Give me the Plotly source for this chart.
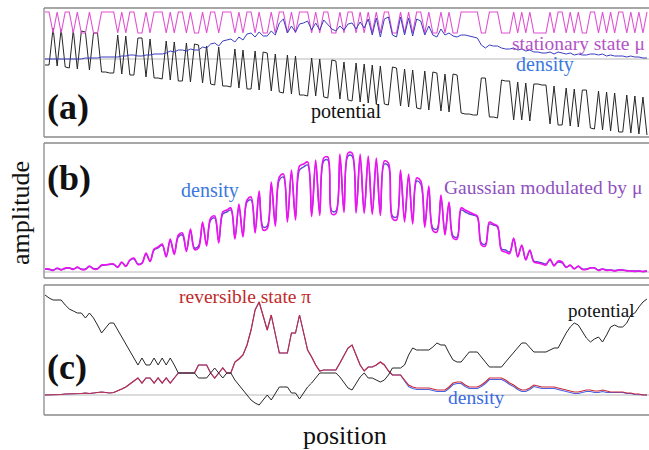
import plotly.graph_objects as go

W, H = 649, 450

# ---------------- data (arbitrary units) ----------------
position = list(range(150))  # lattice sites

# panel (a)
mu_a = [47,47,26,47,26,47,47,26,47,26,
        26,47,26,26,47,47,47,47,26,47,
        26,47,47,26,26,47,26,47,47,47,
        26,47,26,47,47,26,47,26,26,47,
        26,47,47,26,47,47,47,26,47,26,
        47,47,26,47,26,26,47,26,47,47,
        26,47,26,47,47,47,26,47,26,47,
        47,26,26,47,26,47,47,26,47,26,
        47,26,47,26,47,47,26,26,47,26,
        47,26,47,47,26,47,26,26,47,26,
        47,26,26,47,47,47,47,47,26,26,
        47,47,47,26,26,26,47,26,47,26,
        47,26,26,26,26,47,26,47,47,26,
        47,26,47,26,26,47,47,26,47,26,
        47,26,47,47,26,47,26,47,26,47]
potential_a = [-6,-6,31,-7,30,-8,-9,29,-10,28,
               27,-11,26,26,-13,-13,-14,-14,24,-15,
               23,-16,-16,21,21,-18,20,-19,-19,-20,
               18,-21,17,-22,-22,16,-23,15,14,-24,
               13,-25,-26,12,-27,-27,-28,10,-29,9,
               -30,-30,8,-31,7,6,-32,5,-33,-34,
               4,-35,3,-36,-36,-37,1,-37,0,-38,
               -39,-1,-2,-40,-3,-41,-42,-4,-43,-5,
               -44,-6,-45,-7,-45,-46,-8,-9,-47,-10,
               -48,-11,-49,-50,-12,-51,-13,-14,-52,-15,
               -53,-15,-16,-54,-55,-55,-56,-56,-19,-19,
               -58,-58,-59,-21,-22,-22,-61,-23,-61,-24,
               -62,-25,-25,-26,-26,-65,-27,-66,-66,-29,
               -67,-30,-68,-31,-31,-69,-70,-32,-71,-33,
               -72,-34,-73,-73,-36,-74,-37,-75,-38,-76]
density_a = [0,0,0,0,0,0,0,0,0,0,
             1,1,1,1,2,2,2,2,2,3,
             3,4,4,3,3,4,4,5,5,5,
             6,8,7,9,9,8,10,9,9,12,
             11,15,16,13,18,19,20,17,22,19,
             25,26,22,27,23,23,28,24,36,40,
             26,33,27,35,36,38,29,36,29,39,
             34,30,28,33,29,35,36,30,37,31,
             40,24,41,22,40,42,24,22,42,24,
             41,23,40,38,24,33,24,22,30,24,
             26,23,22,24,24,23,22,21,14,11,
             14,13,13,11,10,10,11,9,10,8,
             9,7,7,6,6,7,5,7,6,5,
             6,4,5,4,4,5,5,4,5,3,
             4,3,3,3,2,3,2,2,1,1]

# panel (b)
gauss_mu_b = [3,3,1.5,4,2,4,4,2.5,5,2.5,
              2.5,6,3,3,7,7,8,8,4.5,10,
              5.5,12,14,7.5,8.5,19,10.5,23,25,28,
              15,33,17.5,37,39,20.5,43,22.5,24,50,
              26,54,56,29,60,62,64,33,68,35,
              72,75,39,81,42,43.5,90,46,95,98,
              50,102,52,106,108,110,55.5,112,56.5,114,
              115,58,58.5,118,59.5,119,119,59,118,58.5,
              116,57.5,114,56.5,111,109,53.5,52,102,50,
              98,48,94,91,44.5,86,41.5,40,77,37,
              70,34,33,64,62,60,58,56,27,26,
              50,48,46,21.5,20,18.5,34,15,27,12,
              22,10,9,8,7,13,6,11,10,4.5,
              7,3,6,2.5,2.5,4,4,1.5,3,1.5,
              2,1,2,2,1,1,0.5,1,0.5,1]
density_b = [3,2.5,2,3.5,2.5,3.5,4,3,4.5,3,
             3,5.5,3.5,3.5,6.5,7,7.5,7.5,5,9.5,
             6,11.5,13,8,9,18,11,22,24,27,
             16,31,19,35,37,22,41,24,26,48,
             28,52,54,31,58,60,62,35,65,37,
             70,72,42,78,45,46,87,49,92,95,
             53,98,55,102,105,107,58,108,59,111,
             112,61,61,114,62,116,116,62,114,61,
             112,60,110,59,108,106,56,55,99,53,
             95,51,91,88,47,83,44,43,74,40,
             68,36,35,62,60,58,57,55,29,28,
             48,47,45,23,22,20,33,16,26,13,
             21,11,10,9,8,12,7,10,9,5,
             6.5,3.5,5.5,3,3,4,4,2,3,2,
             2,1.5,2,2,1.5,1,1,1,0.5,1]

# panel (c)
potential_c = [100,97,95,95,95,90,86,84,82,82,
               77,82,77,70,62,67,72,72,65,58,
               51,44,37,30,37,30,30,37,30,37,
               30,37,30,22,22,22,22,22,17,17,
               17,22,27,22,17,22,22,15,10,5,
               0,-5,-8,-10,-5,0,-5,2,8,8,
               8,2,2,-4,2,8,12,17,22,22,
               22,22,22,18,12,7,5,12,18,22,
               17,17,15,13,15,20,27,27,27,30,
               40,47,45,45,45,45,48,52,50,50,
               42,35,33,33,38,43,43,43,38,33,
               28,28,28,28,33,38,43,48,52,52,
               47,43,43,43,43,45,47,47,55,62,
               68,72,70,63,57,53,56,58,53,60,
               68,70,68,68,72,80,82,88,93,96]
reversible_c = [0,0,0.5,0.5,0.5,1,1,1,1.5,1.5,
                2,1.5,2,2.5,3,2.5,2,2.5,4,6,
                8,11,14,17,12,17,17,12,17,12,
                17,12,17,22,22,22,22,22,30,30,
                30,22,17,22,27,22,22,33,36,40,
                50,65,85,93,80,65,80,60,42,42,
                42,62,62,80,62,45,38,30,24,25,
                25,25,25,32,40,47,50,40,30,24,
                28,28,30,33,30,24,20,20,20,15,
                10,8,7,7,7,7,6,5,5,5,
                8,12,13,13,10,8,8,8,10,13,
                17,17,17,17,15,12,10,7,5,5,
                7,10,9,8,8,8,8,7,6,5,
                4,3,3,4,5,5,4,4,5,4,
                3,3,3,3,2,2,1,1,0,0]
density_c = [0,0,0.5,0.5,0.5,1,1,1,1.5,1.5,
             2,1.5,2,2.5,3,2.5,2,2.5,4,6,
             8,11,14,17,12,17,17,12,17,12,
             17,12,17,22,22,22,22,22,30,30,
             30,22,17,22,27,22,22,33,36,40,
             50,65,85,93,80,65,80,60,42,42,
             42,62,62,80,62,45,38,30,24,25,
             25,25,25,32,40,47,50,40,30,24,
             28,28,30,33,30,24,20,20,20,14,
             8.5,6.5,5.5,5.5,5.5,5.5,4.5,3.5,3.5,3.5,
             6.5,10.5,11.5,11.5,8.5,6.5,6.5,6.5,8.5,11.5,
             15.5,15.5,15.5,15.5,13.5,10.5,8.5,5.5,3.5,3.5,
             5.5,8.5,7.5,6.5,6.5,6.5,6.5,5.5,4.5,3.5,
             2.5,1.5,1.5,2.5,3.5,3.5,2.5,2.5,3.5,2.5,
             2.5,2.5,2.5,2.5,1.5,1.5,0.5,0.5,0,0]

for arr in (mu_a, potential_a, density_a, gauss_mu_b, density_b,
            potential_c, reversible_c, density_c):
    assert len(arr) == len(position), len(arr)

# ---------------- figure ----------------
SERIF = "Liberation Serif"
fig = go.Figure()

def line(y, color, width, xa, ya, shape="linear"):
    fig.add_trace(go.Scatter(x=position, y=y, mode="lines", xaxis=xa, yaxis=ya,
                             line=dict(color=color, width=width, shape=shape),
                             hoverinfo="skip", showlegend=False))

# (a)
line(potential_a, "#262626", 1.0, "x", "y")
line(mu_a, "#e050d0", 1.1, "x", "y")
line(density_a, "#3a3cc0", 1.0, "x", "y")
# (b)
line(density_b, "#5a48d0", 1.4, "x2", "y2", "spline")
line(gauss_mu_b, "#f010f0", 1.6, "x2", "y2", "spline")
# (c)
line(density_c, "#4a62e0", 1.1, "x3", "y3")
line(reversible_c, "#c8283c", 1.1, "x3", "y3")
line(potential_c, "#262626", 1.0, "x3", "y3")

x0p = 44 / W
def py(px):
    return 1 - px / H

panels = [  # (top px, bottom px, y-range)
    (8, 137, [-78, 51]),
    (143, 278, [-6, 129]),
    (285, 415, [-20, 110]),
]
xr = [-0.25, 149.5]
lay = {}
shapes = []
for k, (top, bot, yr) in enumerate(panels):
    sfx = "" if k == 0 else str(k + 1)
    lay["xaxis" + sfx] = dict(domain=[x0p, 1], range=xr, visible=False,
                              anchor="y" + sfx, fixedrange=True)
    lay["yaxis" + sfx] = dict(domain=[py(bot), py(top)], range=yr, visible=False,
                              anchor="x" + sfx, fixedrange=True)
    fc = "#8a8a8a"
    for (xa, ya, xb, yb) in [(x0p, py(top), 1, py(top)),
                             (x0p, py(bot), 1, py(bot)),
                             (x0p, py(top), x0p, py(bot))]:
        shapes.append(dict(type="line", xref="paper", yref="paper",
                           x0=xa, y0=ya, x1=xb, y1=yb,
                           line=dict(color=fc, width=1.3)))
    shapes.append(dict(type="line", xref="paper", yref="y" + sfx,
                       x0=x0p, x1=1, y0=0, y1=0, layer="below",
                       line=dict(color="#b8b8b8", width=1)))

def ann(text, xpx, ypx, color, size=20, xanchor="left", bold=False, angle=0):
    return dict(text=("<b>%s</b>" % text) if bold else text,
                x=xpx / W, y=py(ypx), xref="paper", yref="paper",
                xanchor=xanchor, yanchor="middle", showarrow=False,
                textangle=angle,
                font=dict(family=SERIF, size=size, color=color))

annotations = [
    ann("stationary state μ", 647, 44, "#b452c8", size=19.5, xanchor="right"),
    ann("density", 514, 65, "#3a78e0"),
    ann("potential", 309, 111, "#111111"),
    ann("density", 179, 190, "#3a78e0"),
    ann("Gaussian modulated by μ", 442, 187, "#9050c0", size=19.5),
    ann("reversible state π", 177, 296, "#c02a2a", size=19.5),
    ann("potential", 566, 310, "#111111", size=19),
    ann("density", 446, 397, "#3a6ae0", size=19.5),
    ann("(a)", 45, 107, "#111111", size=36, bold=True),
    ann("(b)", 45, 178, "#111111", size=36, bold=True),
    ann("(c)", 45, 367, "#111111", size=36, bold=True),
    ann("amplitude", 20, 213, "#111111", size=26, xanchor="center", angle=-90),
    ann("position", 345, 435, "#111111", size=26, xanchor="center"),
]

fig.update_layout(width=W, height=H, margin=dict(l=0, r=0, t=0, b=0),
                  paper_bgcolor="white", plot_bgcolor="rgba(0,0,0,0)",
                  shapes=shapes, annotations=annotations, **lay)
fig.write_html("out.html", config={"displayModeBar": False},
               post_script="document.body.style.margin='0';"
                           "document.body.style.overflow='hidden';")
